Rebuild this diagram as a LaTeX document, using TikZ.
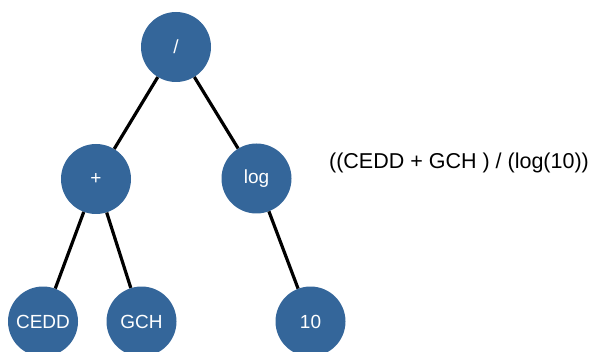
\documentclass[tikz,border=0pt]{standalone}
\usepackage{fontspec}
\setmainfont{Liberation Sans}
\definecolor{nodeblue}{RGB}{52,102,154}
\begin{document}
\begin{tikzpicture}[x=1pt,y=1pt,
  treenode/.style={circle,fill=nodeblue,draw=none,minimum size=70pt,inner sep=0pt,
    text=white,font=\fontsize{19}{19}\selectfont},
  edge/.style={line width=3.2pt,black}]
\useasboundingbox (0,0) rectangle (594,351);
% tree nodes
\node[treenode] (root) at (176,304) {/};
\node[treenode] (plus) at (96,172) {+};
\node[treenode] (log) at (256.5,172.5) {log};
\node[treenode] (cedd) at (43,29.5) {CEDD};
\node[treenode] (gch) at (141.5,29.5) {GCH};
\node[treenode] (ten) at (310.5,29.5) {10};
% edges between parents and children
\draw[edge] (root) -- (plus);
\draw[edge] (root) -- (log);
\draw[edge] (plus) -- (cedd);
\draw[edge] (plus) -- (gch);
\draw[edge] (log) -- (ten);
% infix expression
\node[font=\fontsize{21.5}{21.5}\selectfont] (expr) at (459,188) {((CEDD + GCH ) / (log(10))};
\end{tikzpicture}
\end{document}
